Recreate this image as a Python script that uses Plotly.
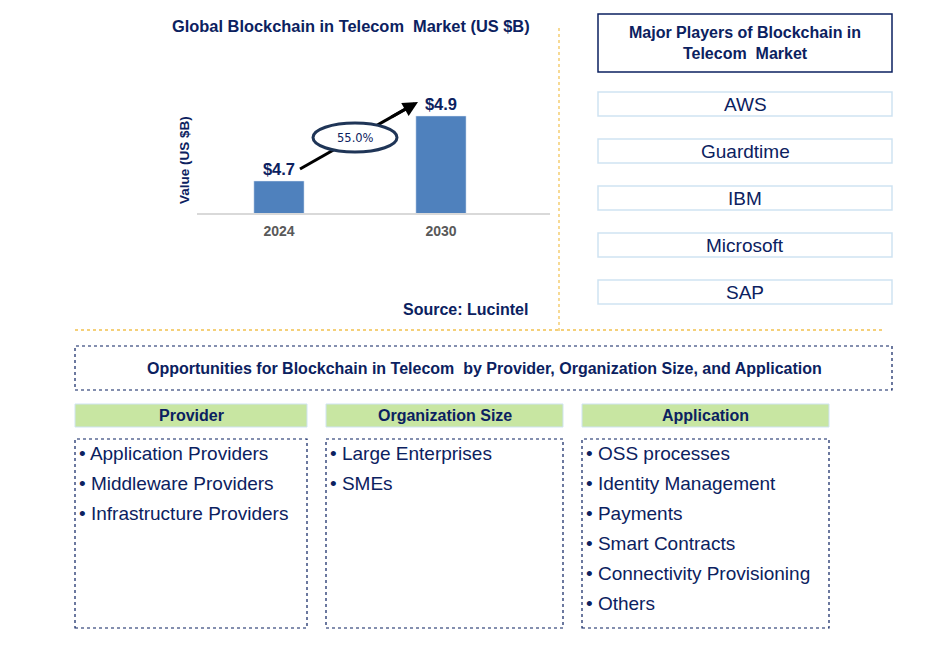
import plotly.graph_objects as go

W, H = 947, 649
NAVY = "#0b2160"
FONT = "Arial"

years = ["2024", "2030"]
values = [4.7, 4.9]
value_labels = ["$4.7", "$4.9"]
cagr_label = "55.0%"
chart_title = "Global Blockchain in Telecom  Market (US $B)"
source_text = "Source: Lucintel"
players_title = "Major Players of Blockchain in<br>Telecom  Market"
players = ["AWS", "Guardtime", "IBM", "Microsoft", "SAP"]
opp_title = "Opportunities for Blockchain in Telecom  by Provider, Organization Size, and Application"
segment_titles = ["Provider", "Organization Size", "Application"]
segment_items = [
    ["Application Providers", "Middleware Providers", "Infrastructure Providers"],
    ["Large Enterprises", "SMEs"],
    ["OSS processes", "Identity Management", "Payments", "Smart Contracts",
     "Connectivity Provisioning", "Others"],
]


def px(x):
    return x / W


def py(y):
    return 1 - y / H


def ann(x, y, text, size, color=NAVY, xanchor="center", family=FONT, **kw):
    d = dict(x=px(x), y=py(y), xref="paper", yref="paper", text=text, showarrow=False,
             xanchor=xanchor, yanchor="middle", font=dict(family=family, size=size, color=color))
    d.update(kw)
    return d


fig = go.Figure()
fig.add_trace(go.Bar(
    x=[0, 1], y=values, width=0.31, marker_color="#4f81bd",
    text=["<b>" + t + "</b>" for t in value_labels], textposition="outside",
    textfont=dict(family=FONT, size=16.5, color=NAVY), cliponaxis=False,
    hoverinfo="skip",
))

shapes = []
annotations = []

annotations.append(ann(351, 26, "<b>" + chart_title + "</b>", 16.4))
annotations.append(ann(184, 160, "<b>Value (US $B)</b>", 13.5, textangle=-90))

# arrow: shaft as a line under the ellipse, head as annotation
x_t, y_t, x_h, y_h = 300, 169, 418, 102
shapes.append(dict(type="line", xref="paper", yref="paper", x0=px(x_t), y0=py(y_t), x1=px(x_h - 6),
                   y1=py(y_h + 3.4), line=dict(color="black", width=3)))
xm = 390
ym = y_t + (y_h - y_t) * (xm - x_t) / (x_h - x_t)
annotations.append(dict(x=px(x_h), y=py(y_h), ax=xm - x_h, ay=ym - y_h, xref="paper", yref="paper",
                        axref="pixel", ayref="pixel", text="", showarrow=True, arrowhead=2,
                        arrowsize=1, arrowwidth=3, arrowcolor="black"))
shapes.append(dict(type="circle", xref="paper", yref="paper", x0=px(313), x1=px(397), y0=py(152), y1=py(123),
                   line=dict(color="#1f3557", width=3), fillcolor="white"))
annotations.append(ann(355, 138, cagr_label, 11.5, family="DejaVu Sans"))
annotations.append(ann(530, 310, "<b>" + source_text + "</b>", 16, xanchor="right"))

GOLD = "#f2c14e"
shapes.append(dict(type="line", xref="paper", yref="paper", x0=px(559), x1=px(559), y0=py(28), y1=py(332),
                   line=dict(color=GOLD, width=1.2, dash="dot")))
shapes.append(dict(type="line", xref="paper", yref="paper", x0=px(75), x1=px(882), y0=py(330), y1=py(330),
                   line=dict(color=GOLD, width=1.5, dash="dot")))

shapes.append(dict(type="rect", xref="paper", yref="paper", x0=px(598), x1=px(892), y0=py(72), y1=py(14),
                   line=dict(color=NAVY, width=1.5)))
annotations.append(ann(745, 43, "<b>" + players_title + "</b>", 16))
for i, p in enumerate(players):
    top = 92 + i * 47
    shapes.append(dict(type="rect", xref="paper", yref="paper", x0=px(598), x1=px(892), y0=py(top + 24),
                       y1=py(top), line=dict(color="#cfe3f2", width=1.5)))
    annotations.append(ann(745, top + 12.5, p, 19))

shapes.append(dict(type="rect", xref="paper", yref="paper", x0=px(75), x1=px(892), y0=py(390), y1=py(346),
                   line=dict(color=NAVY, width=1.2, dash="dot")))
annotations.append(ann(484, 368, "<b>" + opp_title + "</b>", 16))

cols = [(75, 307), (326, 563), (582, 829)]
for (x0, x1), title, items in zip(cols, segment_titles, segment_items):
    shapes.append(dict(type="rect", xref="paper", yref="paper", x0=px(x0), x1=px(x1), y0=py(427), y1=py(404),
                       line=dict(color="#cfe3f2", width=1), fillcolor="#c8e6a2"))
    annotations.append(ann((x0 + x1) / 2, 415.5, "<b>" + title + "</b>", 16))
    shapes.append(dict(type="rect", xref="paper", yref="paper", x0=px(x0), x1=px(x1), y0=py(628), y1=py(439),
                       line=dict(color=NAVY, width=1.2, dash="dot")))
    for j, it in enumerate(items):
        annotations.append(ann(x0 + 2, 453 + 30 * j, "• " + it, 19, xanchor="left"))

fig.update_layout(
    width=W, height=H, margin=dict(l=0, r=0, t=0, b=0),
    paper_bgcolor="white", plot_bgcolor="white", showlegend=False,
    shapes=shapes, annotations=annotations,
    xaxis=dict(domain=[px(197), px(550)], range=[-0.506, 1.673], tickmode="array", tickvals=[0, 1],
               ticktext=["<b>" + y + "</b>" for y in years], showgrid=False, zeroline=False, showline=True,
               linecolor="#d9d9d9", linewidth=1.5, ticks="", ticklabelstandoff=4,
               tickfont=dict(family=FONT, size=14, color="#595959")),
    yaxis=dict(domain=[py(213), py(90)], range=[4.6015, 4.6015 + 123 / 325], showticklabels=False,
               showgrid=False, zeroline=False, showline=False),
)
fig.write_html("out.html", config={"displayModeBar": False},
               post_script="document.body.style.margin='0';document.body.style.padding='0';")
